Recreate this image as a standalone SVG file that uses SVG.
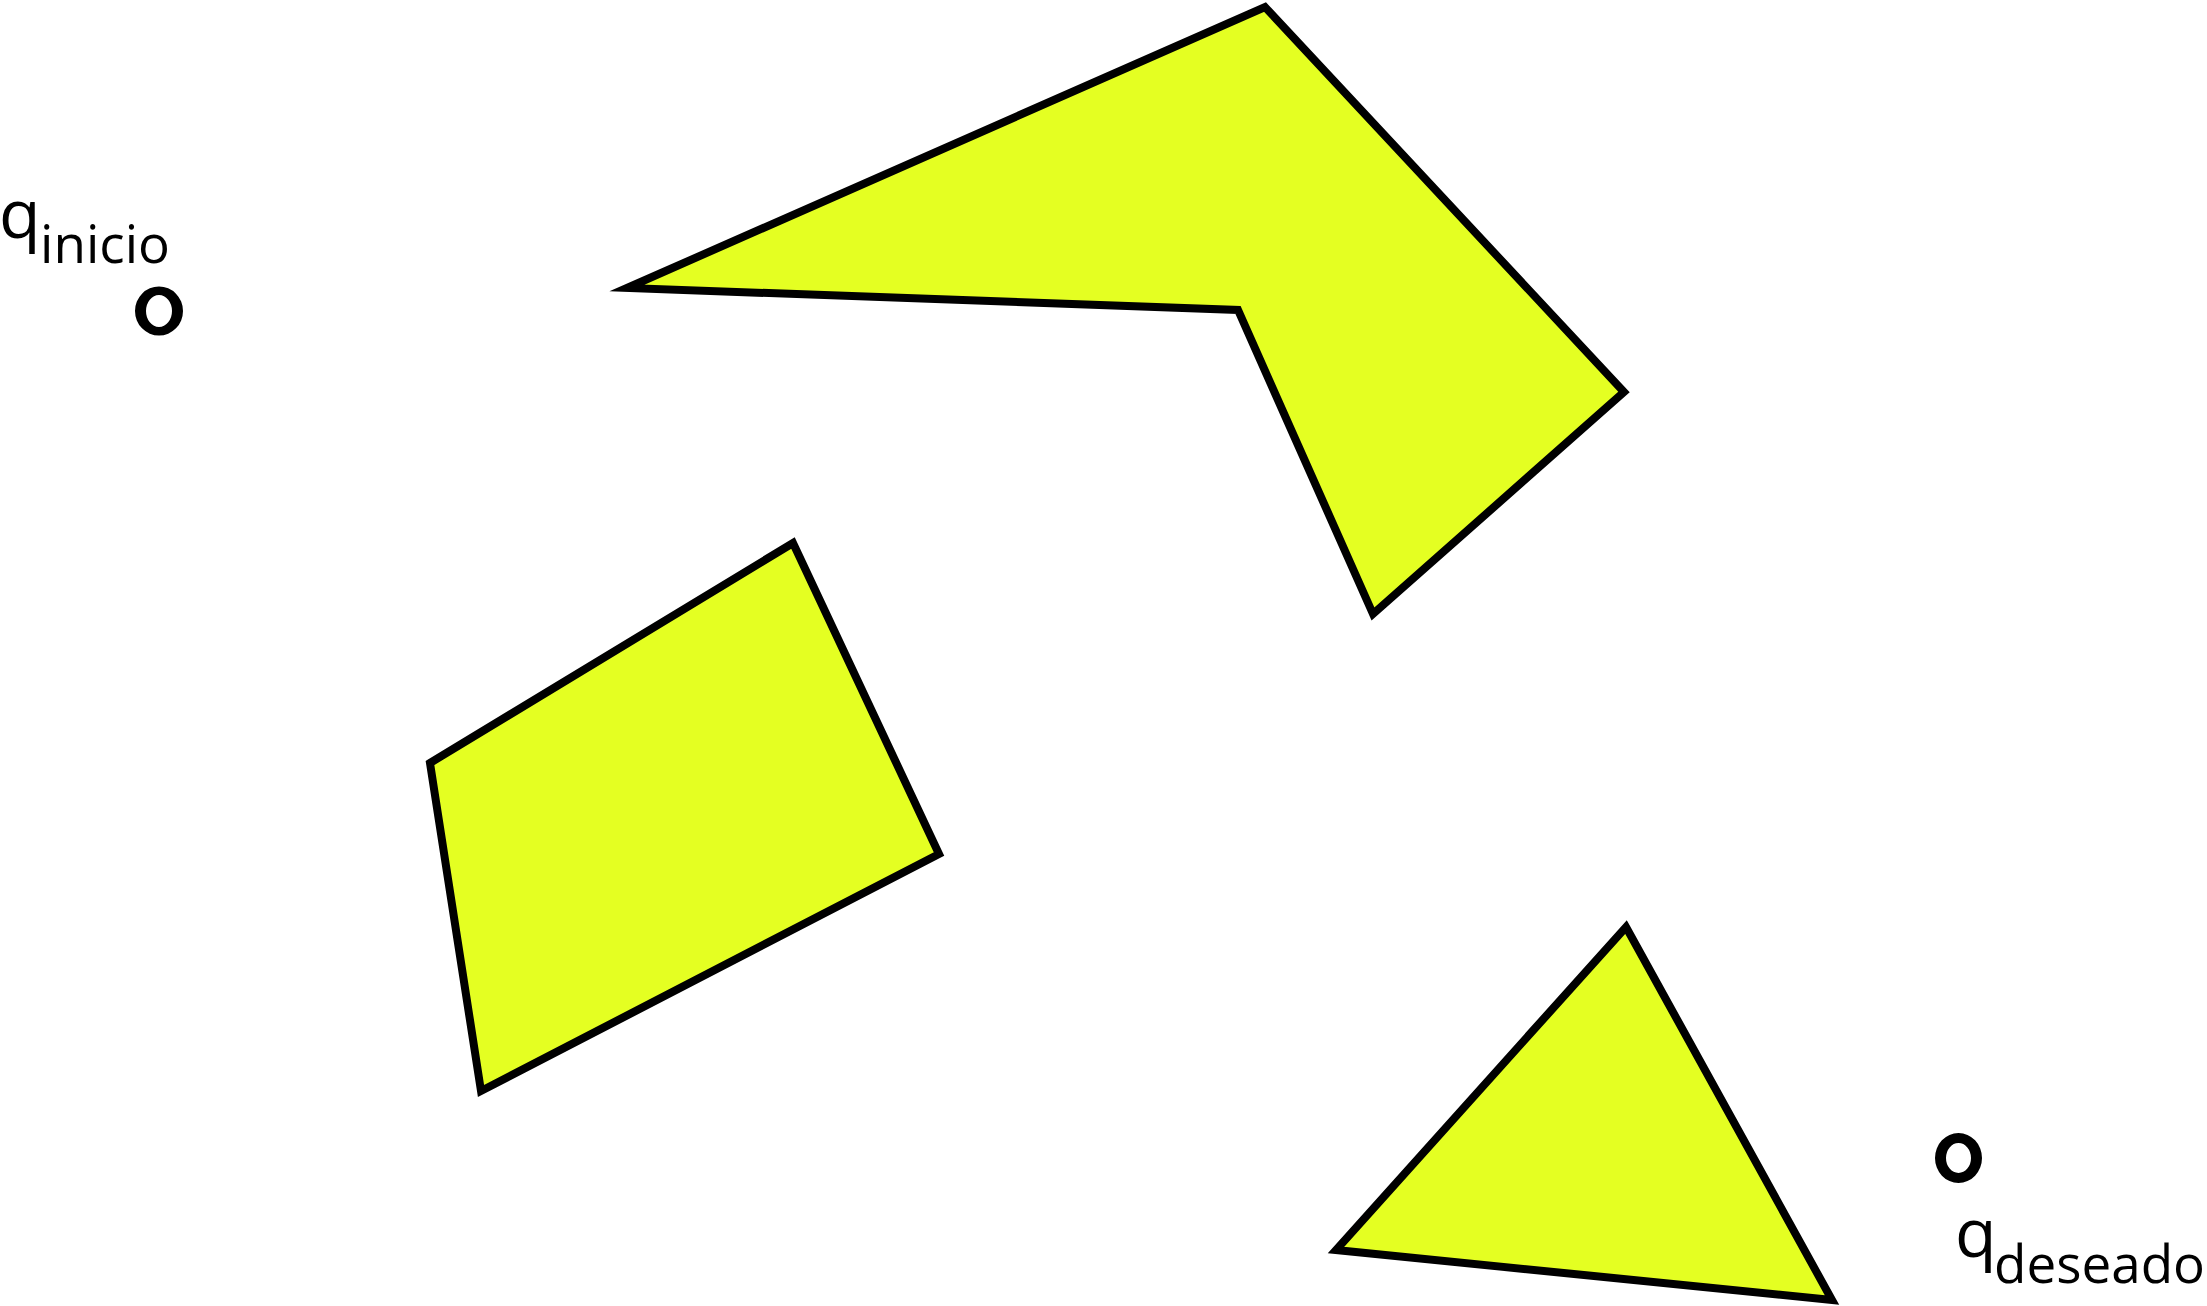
<svg xmlns="http://www.w3.org/2000/svg" width="2207" height="1306" viewBox="0 0 2207 1306">
<style>
.ob{fill:#E4FF22;stroke:#000;stroke-width:8;stroke-linejoin:miter;stroke-miterlimit:20}
.pt{fill:#000;fill-rule:evenodd}
.q{font-family:"Open Sans","Noto Sans",sans-serif;font-size:68px;fill:#000}
.s{font-family:"Open Sans","Noto Sans",sans-serif;font-size:53px;fill:#000}
</style>
<rect width="2207" height="1306" fill="#fff"/>
<g id="obstacle1"><polygon class="ob" points="627,288 1265,7 1624,392 1373,614 1238,310"/></g>
<g id="obstacle2"><polygon class="ob" points="430,763 793,543 939,854 481,1091"/></g>
<g id="obstacle3"><polygon class="ob" points="1626,927 1832,1300 1336,1250"/></g>
<g id="start">
<path class="pt" d="M135,311 a24,24.5 0 1,0 48,0 a24,24.5 0 1,0 -48,0 Z M146,311 a13,16 0 1,0 26,0 a13,16 0 1,0 -26,0 Z"/>
<text class="q" x="-1" y="238">q</text><text class="s" x="40" y="263">inicio</text>
</g>
<g id="goal">
<path class="pt" d="M1935,1158 a23.5,25 0 1,0 47,0 a23.5,25 0 1,0 -47,0 Z M1946,1158 a12.5,15 0 1,0 25,0 a12.5,15 0 1,0 -25,0 Z"/>
<text class="q" x="1955" y="1257">q</text><text class="s" x="1994" y="1283">deseado</text>
</g>
<g id="connectors"></g>
</svg>
